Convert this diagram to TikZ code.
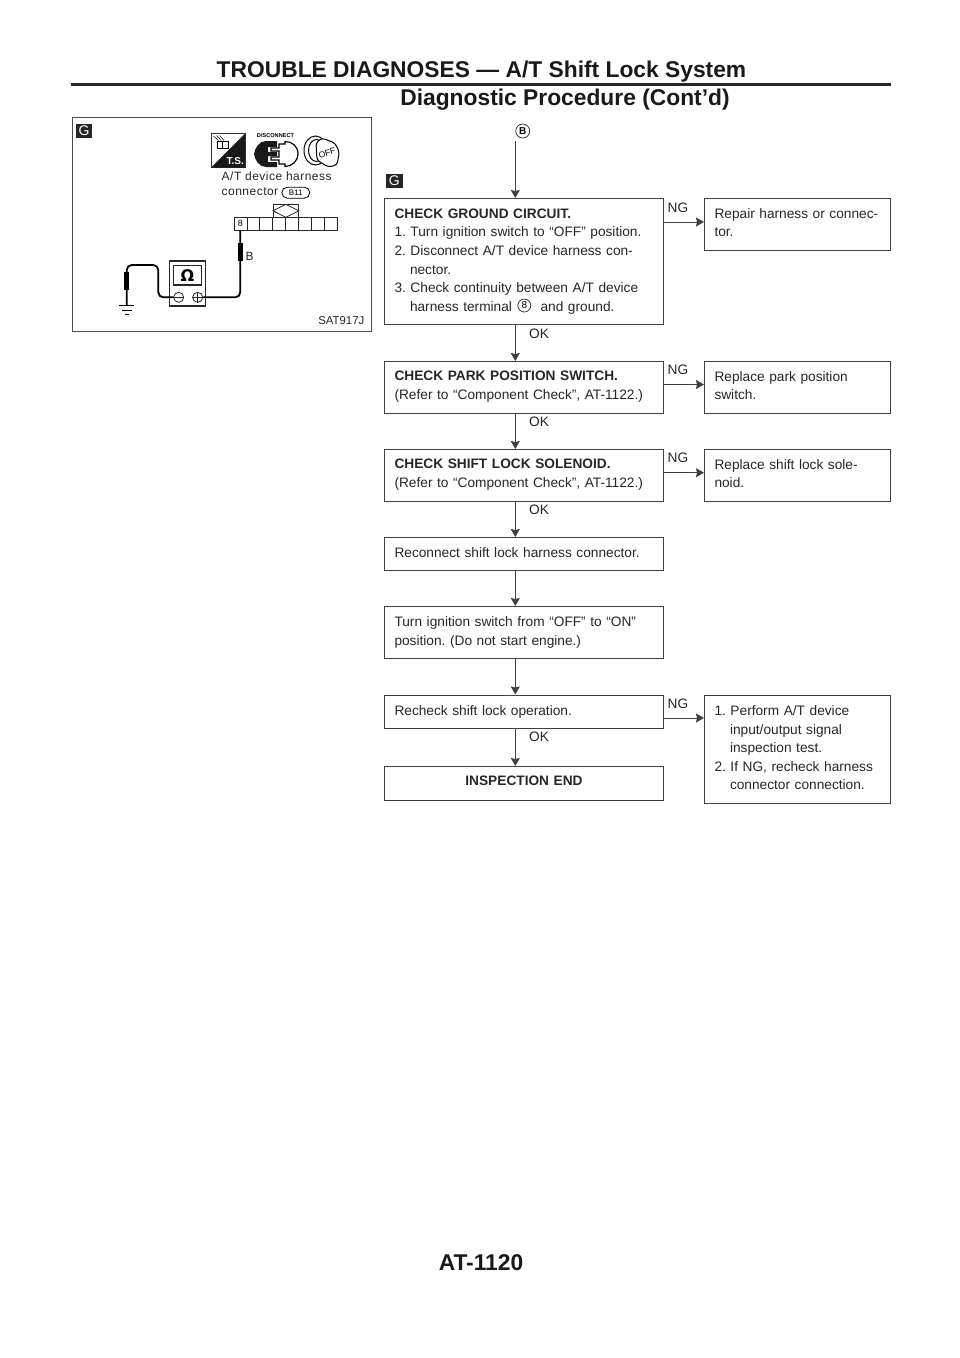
\documentclass[tikz,border=0pt]{standalone}
\usepackage{fontspec}
\setmainfont{Liberation Sans}
\newfontfamily\symfont{DejaVu Sans}
\usetikzlibrary{arrows.meta, calc, positioning}
\tikzset{
  flowbox/.style={draw=black!75, line width=1pt, anchor=north west, align=left, inner xsep=10pt, inner ysep=0pt, minimum width=#1, text width=#1-20pt, font=\frenchspacing\fontsize{13.7}{18.6}\selectfont, text=black!85},
  flowlabel/.style={font=\fontsize{13.7}{16}\selectfont, text=black!85, inner sep=0pt},
  flowline/.style={->, draw=black!75, line width=1pt},
  headtext/.style={font=\bfseries\fontsize{22.8}{24}\selectfont, text=black!90, inner sep=0pt},
  tagbox/.style={fill=black!85, text=white, font=\fontsize{14}{14}\selectfont, inner sep=0pt, minimum width=16.5pt, minimum height=14pt},
  wire/.style={line width=1.8pt, rounded corners=5pt},
  wirepad/.style={line width=5pt},
  panellabel/.style={font=\fontsize{12}{14}\selectfont, text=black!85, inner sep=0pt, anchor=west}
}
\newcommand{\hangline}{\hspace*{15.5pt}}
\begin{document}
\begin{tikzpicture}[>={Stealth[length=8pt,width=9pt,inset=1pt]}, x=1pt, y=-1pt]
  \useasboundingbox (0,0) rectangle (960,1358);
  % page head and foot
  \node[headtext] (title) at (481.5,71.5) {TROUBLE DIAGNOSES — A/T Shift Lock System};
  \draw[line width=3.4pt, black!85] (71,84.5)--(890.5,84.5);
  \node[headtext] (subtitle) at (565,100) {Diagnostic Procedure (Cont’d)};
  \node[headtext] (pageno) at (481,1263) {AT-1120};
  % left panel
  \draw[black!70, line width=1pt] (72,117) rectangle (371,331);
  \node[tagbox] (tagA) at (84,130.7) {G};
  \draw[line width=0.8pt, black!80] (211,133.5) rectangle (245,167.5);
  \fill[black!90] (245,133.5)--(245,167.5)--(211,167.5)--cycle;
  \node[font=\bfseries\fontsize{10}{10}\selectfont, text=white, inner sep=0pt] (ts) at (235.3,161.5) {T.S.};
  \draw[line width=0.7pt] (217,141) rectangle (222.5,148) (222.5,141) rectangle (228,148);
  \draw[line width=0.5pt] (213.5,136)--(218.5,140.5) (216.5,135.5)--(221,140.5) (219.5,135.5)--(224,140.5);
  \node[font=\bfseries\fontsize{5.6}{6}\selectfont, inner sep=0pt] (disc) at (275.5,136) {DISCONNECT};
  \fill[black!90] (277,141) -- (266,141) .. controls (259,141) and (255,148) .. (254,154) .. controls (255,160) and (259,167) .. (266,167) -- (277,167) -- (277,162) -- (268,162) -- (268,156) -- (277,156) -- (277,152) -- (268,152) -- (268,147) -- (277,147) -- cycle;
  \draw[line width=1.2pt] (279,144) -- (285,144) -- (285,141.5) .. controls (292,141.5) and (298,146) .. (298,154) .. controls (298,161) and (292,166.5) .. (285,166.5) -- (285,164) -- (279,164) -- (279,160) -- (271,160) -- (271,157) -- (279,157) -- (279,151) -- (271,151) -- (271,148) -- (279,148) -- cycle;
  \draw[line width=1pt] (315.5,150.5) ellipse (11.5 and 14.5);
  \draw[line width=1pt] (316.5,150.5) ellipse (8 and 11);
  \draw[line width=1pt, fill=white, rounded corners=3pt] (316,143) -- (322,138) -- (335,143) -- (339.3,152) -- (337,165) -- (328,167) -- (317,160) -- cycle;
  \node[font=\fontsize{8.5}{9}\selectfont, rotate=15, inner sep=0pt] (off) at (327,153) {OFF};
  \node[panellabel] (conn1) at (221.5,176.5) {\addfontfeature{LetterSpace=4}A/T device harness};
  \node[panellabel] (conn2) at (221.5,192) {\addfontfeature{LetterSpace=4}connector};
  \node[draw, line width=0.8pt, font=\fontsize{8}{8}\selectfont, inner sep=0pt, minimum width=28pt, minimum height=11pt, rounded corners=5.5pt] (b11) at (295.8,192.7) {B11};
  \draw[line width=0.8pt, black!85] (273,217.3) rectangle (298.8,204.3);
  \draw[line width=0.8pt, black!85] (273,210.8)--(285.9,204.3)--(298.8,210.8)--(285.9,217.3)--cycle;
  \foreach \i in {0,...,7}
    \draw[line width=0.8pt, black!85] ({234+12.9*\i},217.3) rectangle ({234+12.9*(\i+1)},230.3);
  \node[font=\fontsize{9}{9}\selectfont, inner sep=0pt] (pin) at (240.5,223.8) {8};
  \coordinate (pinend) at (240.3,230.3);
  \node[draw=black!85, line width=1.1pt, minimum width=36pt, minimum height=45pt, inner sep=0pt] (meter) at (187.7,283.5) {};
  \node[draw=black!85, line width=1.2pt, minimum width=28.4pt, minimum height=19.3pt, inner sep=0pt, font=\bfseries\fontsize{16}{16}\selectfont] (screen) at (187.5,275.3) {\symfont Ω};
  \node[draw=black!85, circle, line width=0.8pt, minimum size=10pt, inner sep=0pt] (minus) at (178.7,297.3) {};
  \node[draw=black!85, circle, line width=0.8pt, minimum size=10pt, inner sep=0pt] (plus) at (197.7,297.3) {};
  \draw[line width=0.8pt, black!85] (minus.west)--(minus.east) (plus.west)--(plus.east) (plus.north)--(plus.south);
  \coordinate (gnd) at (126.7,305);
  \draw[wire] (pinend) -- (240.3,297.3) -- (plus.east);
  \draw[wire] (minus.west) -- (158.3,297.3) -- (158.3,265) -- (126.7,265) -- (gnd);
  \draw[wirepad] (240.3,243) -- (240.3,260.7);
  \draw[wirepad] (126.7,271.7) -- (126.7,290);
  \draw[line width=1pt] (119.3,305)--(134,305) (122,310)--(131.5,310) (124.5,314.5)--(129,314.5);
  \node[panellabel] (wireB) at (245.5,256) {B};
  \node[font=\fontsize{11.4}{13}\selectfont, text=black!85, inner sep=0pt, anchor=east] (code) at (364.5,321) {SAT917J};
  % flow chart
  \node[draw=black!85, circle, line width=0.7pt, inner sep=0pt, minimum size=14pt, font=\bfseries\fontsize{10}{10}\selectfont] (start) at (522.7,131) {B};
  \node[tagbox] (tagB) at (394.3,180.8) {G};
  \node[flowbox=279pt, minimum height=126pt] (box1) at (384,198) {\textbf{CHECK GROUND CIRCUIT.}\\
    1. Turn ignition switch to “OFF” position.\\
    2. Disconnect A/T device harness con-\\
    \hangline nector.\\
    3. Check continuity between A/T device\\
    \hangline harness terminal \hspace*{24pt}and ground.};
  \node[draw=black!85, circle, line width=0.7pt, inner sep=0pt, minimum size=13pt, font=\fontsize{10}{10}\selectfont] (pinref) at (524.3,305.5) {8};
  \node[flowbox=279pt, minimum height=52pt, text depth=23pt] (box2) at (384,361) {\textbf{CHECK PARK POSITION SWITCH.}\\(Refer to “Component Check”, AT-1122.)};
  \node[flowbox=279pt, minimum height=52pt, text depth=23pt] (box3) at (384,449) {\textbf{CHECK SHIFT LOCK SOLENOID.}\\(Refer to “Component Check”, AT-1122.)};
  \node[flowbox=279pt, minimum height=33pt, text depth=3pt] (box4) at (384,537) {Reconnect shift lock harness connector.};
  \node[flowbox=279pt, minimum height=52pt] (box5) at (384,606) {Turn ignition switch from “OFF” to “ON”\\position. (Do not start engine.)};
  \node[flowbox=279pt, minimum height=33pt] (box6) at (384,694.5) {Recheck shift lock operation.};
  \node[flowbox=279pt, minimum height=34pt, align=center, text depth=6.5pt] (box7) at (384,766) {\textbf{INSPECTION END}};
  \node[flowbox=186pt, minimum height=52pt, text depth=22.5pt] (fix1) at (704,198) {Repair harness or connec-\\tor.};
  \node[flowbox=186pt, minimum height=52pt, text depth=22.5pt] (fix2) at (704,361) {Replace park position\\switch.};
  \node[flowbox=186pt, minimum height=52pt, text depth=22.5pt] (fix3) at (704,449) {Replace shift lock sole-\\noid.};
  \node[flowbox=186pt, minimum height=108pt, text depth=78pt] (fix6) at (704,695) {1. Perform A/T device\\
    \hangline input/output signal\\
    \hangline inspection test.\\
    2. If NG, recheck harness\\
    \hangline connector connection.};
  \coordinate (top) at (515.3,141);
  \coordinate (ng1) at (704,222);
  \coordinate (ng2) at (704,384.5);
  \coordinate (ng3) at (704,472.7);
  \coordinate (ng6) at (704,718);
  \draw[flowline] (top) -- (top |- box1.north);
  \draw[flowline] (top |- box1.south) -- (top |- box2.north);
  \draw[flowline] (top |- box2.south) -- (top |- box3.north);
  \draw[flowline] (top |- box3.south) -- (top |- box4.north);
  \draw[flowline] (top |- box4.south) -- (top |- box5.north);
  \draw[flowline] (top |- box5.south) -- (top |- box6.north);
  \draw[flowline] (top |- box6.south) -- (top |- box7.north);
  \draw[flowline] (box1.east |- ng1) -- (ng1);
  \draw[flowline] (box2.east |- ng2) -- (ng2);
  \draw[flowline] (box3.east |- ng3) -- (ng3);
  \draw[flowline] (box6.east |- ng6) -- (ng6);
  \node[flowlabel] (okone) at (539,334) {OK};
  \node[flowlabel] (oktwo) at (539,422) {OK};
  \node[flowlabel] (okthree) at (539,510) {OK};
  \node[flowlabel] (oksix) at (539,737) {OK};
  \node[flowlabel] (ngone) at (678,208) {NG};
  \node[flowlabel] (ngtwo) at (678,370) {NG};
  \node[flowlabel] (ngthree) at (678,458) {NG};
  \node[flowlabel] (ngsix) at (678,704) {NG};
\end{tikzpicture}
\end{document}
